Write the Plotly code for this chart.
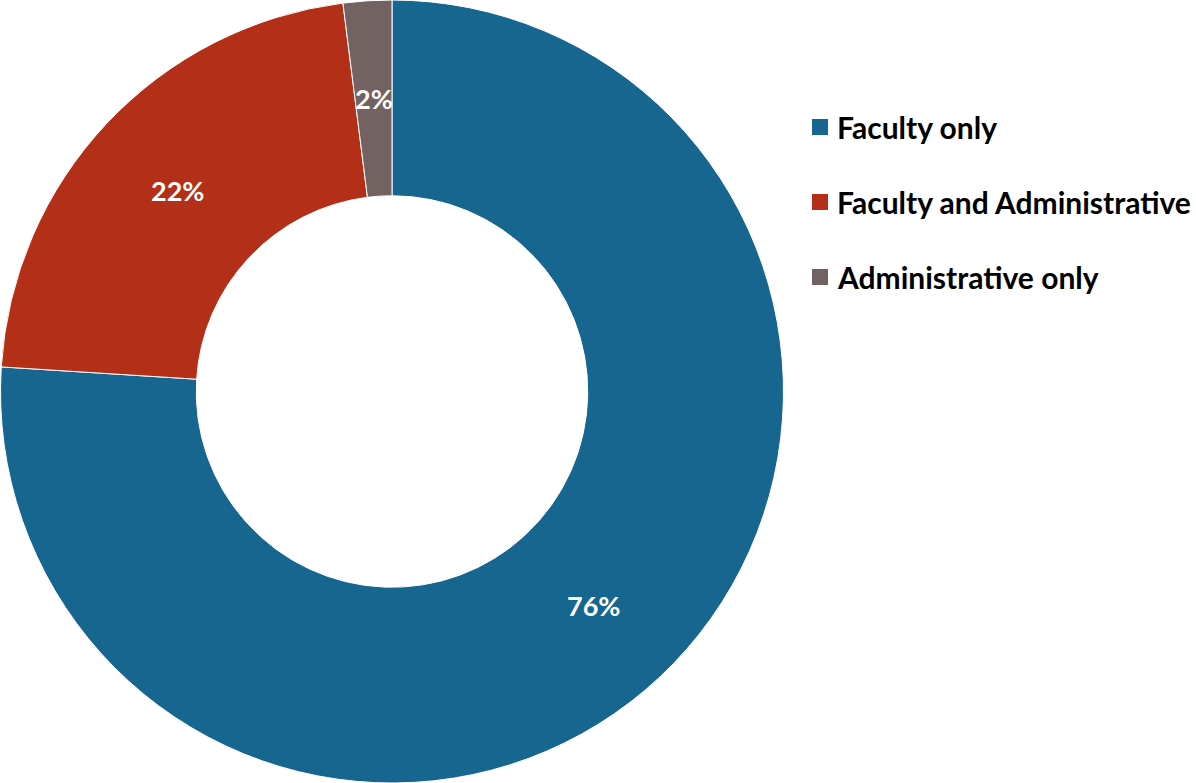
import math
import plotly.graph_objects as go

# Share of roles
categories = ["Faculty only", "Faculty and Administrative", "Administrative only"]
values = [76, 22, 2]
colors = ["#176690", "#b42f17", "#726262"]

W, H = 1196, 783
FONT = "Lato"
HOLE = 0.5
PIE_W = 784  # pixel width of the pie's domain

fig = go.Figure()
fig.add_trace(go.Pie(
    labels=categories,
    values=values,
    hole=HOLE,
    sort=False,
    direction="clockwise",
    rotation=0,
    marker=dict(colors=colors, line=dict(color="white", width=1)),
    textinfo="none",
    domain=dict(x=[0, PIE_W / W], y=[0, 1]),
    showlegend=False,
    hoverinfo="label+percent",
))

# Percentage labels centred in each ring segment (clockwise from 12 o'clock)
cx, cy = PIE_W / 2, H / 2
r_out = min(PIE_W, H) / 2
r_mid = r_out * (1 + HOLE) / 2
total = sum(values)
start = 0.0
for v in values:
    frac = v / total
    mid = (start + frac / 2) * 2 * math.pi
    px = cx + r_mid * math.sin(mid)
    py = cy - r_mid * math.cos(mid)
    fig.add_annotation(
        xref="paper", yref="paper",
        x=px / W, y=1 - py / H,
        xanchor="center", yanchor="middle",
        text=f"{round(frac * 100)}%", showarrow=False,
        font=dict(family=FONT, size=27, color="white", weight="bold"),
    )
    start += frac

# Legend drawn as squares + text, evenly spaced
legend_x = 812
legend_y0 = 127
legend_dy = 75
sq = 16
for i, (name, col) in enumerate(zip(categories, colors)):
    yc = legend_y0 + i * legend_dy
    fig.add_shape(
        type="rect", xref="paper", yref="paper",
        x0=legend_x / W, x1=(legend_x + sq) / W,
        y0=1 - (yc + sq / 2) / H, y1=1 - (yc - sq / 2) / H,
        fillcolor=col, line=dict(width=0),
    )
    fig.add_annotation(
        xref="paper", yref="paper",
        x=(legend_x + 23) / W, y=1 - yc / H,
        xanchor="left", yanchor="middle",
        text=name, showarrow=False,
        font=dict(family=FONT, size=30, color="black", weight="bold"),
    )

fig.update_layout(
    width=W, height=H,
    margin=dict(l=0, r=0, t=0, b=0),
    paper_bgcolor="white",
    plot_bgcolor="white",
)

fig.write_html("out.html")
